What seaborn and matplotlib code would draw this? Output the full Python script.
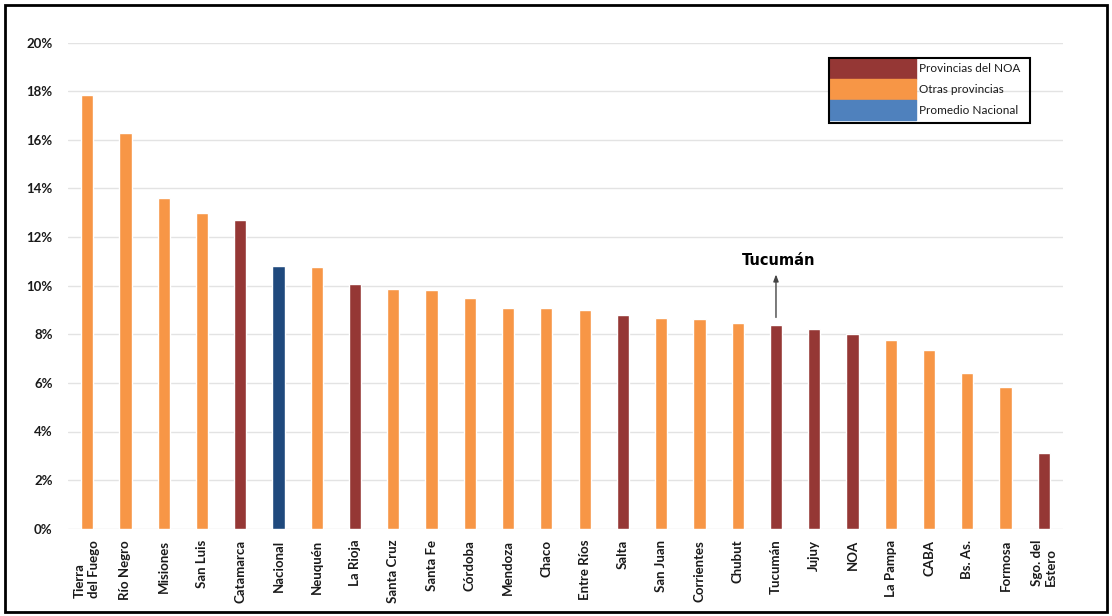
import matplotlib
matplotlib.use("Agg")
import matplotlib.pyplot as plt
import matplotlib.patches as mpatches
import pandas as pd
import seaborn as sns
from matplotlib.ticker import PercentFormatter

# data
provincias = ["Tierra\ndel Fuego", "Río Negro", "Misiones", "San Luis", "Catamarca",
              "Nacional", "Neuquén", "La Rioja", "Santa Cruz", "Santa Fe", "Córdoba",
              "Mendoza", "Chaco", "Entre Ríos", "Salta", "San Juan", "Corrientes",
              "Chubut", "Tucumán", "Jujuy", "NOA", "La Pampa", "CABA", "Bs. As.",
              "Formosa", "Sgo. del\nEstero"]
valores = [17.86, 16.27, 13.61, 12.98, 12.70, 10.81, 10.78, 10.06, 9.86, 9.82, 9.49,
           9.08, 9.07, 9.00, 8.79, 8.67, 8.62, 8.48, 8.37, 8.23, 8.01, 7.77, 7.35, 6.39,
           5.82, 3.13]
grupo = ["Otras", "Otras", "Otras", "Otras", "NOA", "Nacional", "Otras", "NOA", "Otras",
         "Otras", "Otras", "Otras", "Otras", "Otras", "NOA", "Otras", "Otras", "Otras",
         "NOA", "NOA", "NOA", "Otras", "Otras", "Otras", "Otras", "NOA"]
yticks = [0, 2, 4, 6, 8, 10, 12, 14, 16, 18, 20]

df = pd.DataFrame({"provincia": provincias, "valor": valores, "grupo": grupo})

colores = {"NOA": "#953735", "Otras": "#F79646", "Nacional": "#1F497D"}

sns.set_style("white")
plt.rcParams["font.family"] = ["Lato", "DejaVu Sans"]

W, H = 1112, 616
fig = plt.figure(figsize=(W / 100, H / 100), dpi=100)
ax = fig.add_axes([68 / W, 1 - 528.7 / H, (1063 - 68) / W, (528.7 - 42.7) / H])

sns.barplot(data=df, x="provincia", y="valor", hue="grupo", palette=colores,
            dodge=False, width=0.32, saturation=1, legend=False, ax=ax, zorder=3)

ax.set_xlim(-0.5, len(provincias) - 0.5)
ax.set_ylim(0, 20)
ax.set_yticks(yticks)
ax.yaxis.set_major_formatter(PercentFormatter(decimals=0))
ax.grid(axis="y", color="#E3E3E3", linewidth=1, zorder=0)
ax.set_axisbelow(True)
for s in ax.spines.values():
    s.set_visible(False)
ax.set_xlabel("")
ax.set_ylabel("")
ax.tick_params(axis="y", length=0, pad=11, labelsize=9.5, labelcolor="#1a1a1a")
ax.tick_params(axis="x", length=0, pad=8, labelsize=9.5, labelcolor="#1a1a1a")
plt.setp(ax.get_xticklabels(), rotation=90, fontweight="bold", ha="center", va="top",
         multialignment="left")
plt.setp(ax.get_yticklabels(), fontweight="bold")

# Tucumán annotation
i_tuc = provincias.index("Tucumán")
ax.annotate("", xy=(i_tuc, 10.58), xytext=(i_tuc, 8.58),
            arrowprops=dict(arrowstyle="-|>,head_length=0.4,head_width=0.15",
                            color="#444444", lw=1))
ax.text(i_tuc + 0.08, 11.03, "Tucumán", ha="center", va="center", color="black",
        fontsize=10.5, fontweight="bold", family="DejaVu Sans")

# legend (frame drawn separately so it has the right-hand margin of the original)
handles = [mpatches.Patch(facecolor="#953735", edgecolor="#953735", linewidth=1, label="Provincias del NOA"),
           mpatches.Patch(facecolor="#F79646", edgecolor="#F79646", linewidth=1, label="Otras provincias"),
           mpatches.Patch(facecolor="#4F81BD", edgecolor="#4F81BD", linewidth=1, label="Promedio Nacional")]
leg = ax.legend(handles=handles, loc="upper left", bbox_to_anchor=(829 / W, 1 - 58.5 / H),
                bbox_transform=fig.transFigure, frameon=False,
                fontsize=8.5, handlelength=7.4, handleheight=2.3, labelspacing=0,
                handletextpad=0.25, borderpad=0, borderaxespad=0)
for t in leg.get_texts():
    t.set_color("#1a1a1a")
fig.patches.append(mpatches.Rectangle((829 / W, 1 - 123 / H), 201 / W, 64.5 / H,
                                      transform=fig.transFigure, fill=False,
                                      edgecolor="black", linewidth=1.5, zorder=10))

# outer frame
fig.patches.append(mpatches.Rectangle((5 / W, 4 / H), 1102 / W, 607 / H,
                                      transform=fig.transFigure, fill=False,
                                      edgecolor="black", linewidth=2))

fig.savefig("out.png", dpi=100)
